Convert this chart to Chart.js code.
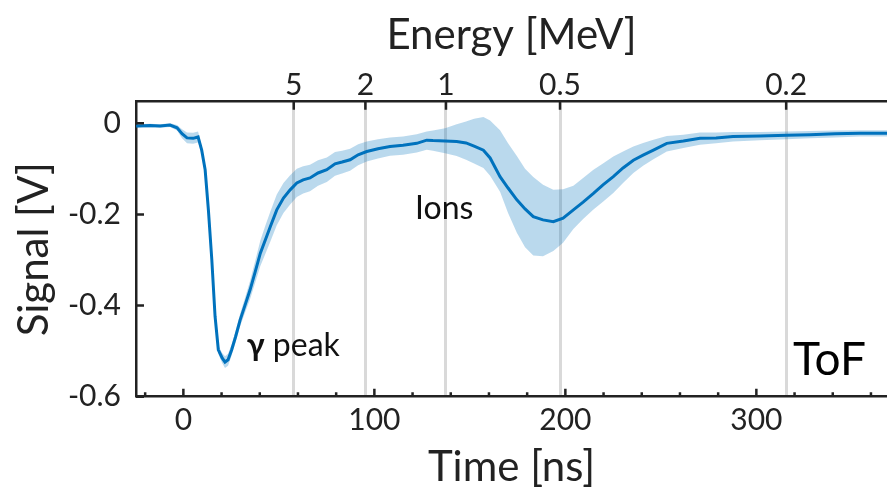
<!DOCTYPE html>
<html>
<head>
<meta charset="utf-8">
<script src="https://cdn.jsdelivr.net/npm/chart.js@4.4.1/dist/chart.umd.min.js"></script>
<style>
  body { margin: 0; background: #fff; }
  canvas { display: block; }
</style>
</head>
<body>
<canvas id="tofChart" width="887" height="488"></canvas>
<script>
// time axis [ns] and the mean signal [V]
var times = [-24.7, -17.4, -12.2, -7.0, -3.3, -0.7, 1.9, 5.1, 7.7, 9.6,
  11.4, 13.1, 14.9, 16.6, 18.3, 20.3, 21.8, 23.4, 25.3, 27.3,
  29.7, 32.3, 34.9, 37.6, 40.3, 42.9, 45.5, 48.9, 52.4, 55.9,
  59.4, 62.7, 66.3, 70.5, 75.1, 79.4, 83.1, 87.3, 91.5, 96.0,
  101.9, 108.2, 115.0, 122.2, 127.4, 130.7, 137.0, 143.1, 148.0, 152.2,
  157.1, 160.6, 165.8, 170.0, 174.6, 178.9, 183.2, 188.3, 193.7, 198.8,
  204.2, 209.3, 214.7, 219.7, 225.1, 230.2, 235.6, 240.7, 246.1, 253.1,
  261.8, 270.5, 278.9, 287.8, 301.9, 315.9, 328.1, 341.2, 354.3, 368.4];

var signal = [-0.006, -0.005, -0.006, -0.004, -0.010, -0.023, -0.032, -0.033, -0.030, -0.059,
  -0.102, -0.190, -0.300, -0.424, -0.497, -0.515, -0.524, -0.519, -0.497, -0.469,
  -0.432, -0.399, -0.366, -0.326, -0.285, -0.256, -0.227, -0.190, -0.164, -0.146,
  -0.131, -0.124, -0.120, -0.109, -0.102, -0.089, -0.085, -0.080, -0.069, -0.062,
  -0.056, -0.051, -0.048, -0.044, -0.037, -0.038, -0.039, -0.040, -0.043, -0.050,
  -0.059, -0.076, -0.117, -0.142, -0.168, -0.188, -0.205, -0.212, -0.216, -0.208,
  -0.190, -0.173, -0.154, -0.135, -0.117, -0.098, -0.081, -0.070, -0.059, -0.044,
  -0.039, -0.033, -0.032, -0.029, -0.028, -0.026, -0.025, -0.023, -0.022, -0.022];

// spread of the shots (upper / lower edge of the shaded band)
var upper = [-0.002, -0.001, -0.002, 0.000, -0.004, -0.013, -0.020, -0.021, -0.018, -0.050,
  -0.093, -0.181, -0.291, -0.415, -0.488, -0.504, -0.511, -0.506, -0.485, -0.457,
  -0.418, -0.383, -0.346, -0.302, -0.257, -0.225, -0.194, -0.156, -0.131, -0.114,
  -0.100, -0.094, -0.091, -0.081, -0.075, -0.063, -0.060, -0.056, -0.046, -0.040,
  -0.035, -0.031, -0.029, -0.024, -0.018, -0.016, -0.011, -0.002, 0.004, 0.010,
  0.014, 0.006, -0.015, -0.044, -0.072, -0.100, -0.118, -0.135, -0.146, -0.145,
  -0.137, -0.120, -0.102, -0.088, -0.073, -0.062, -0.051, -0.043, -0.036, -0.028,
  -0.025, -0.020, -0.020, -0.019, -0.019, -0.018, -0.017, -0.016, -0.015, -0.015];

var lower = [-0.010, -0.009, -0.010, -0.008, -0.016, -0.033, -0.044, -0.045, -0.042, -0.068,
  -0.111, -0.199, -0.309, -0.433, -0.506, -0.526, -0.537, -0.532, -0.509, -0.481,
  -0.446, -0.415, -0.386, -0.350, -0.313, -0.287, -0.260, -0.224, -0.197, -0.178,
  -0.162, -0.154, -0.149, -0.137, -0.129, -0.115, -0.110, -0.104, -0.092, -0.084,
  -0.077, -0.071, -0.069, -0.064, -0.058, -0.060, -0.066, -0.072, -0.080, -0.088,
  -0.098, -0.115, -0.150, -0.197, -0.240, -0.272, -0.290, -0.292, -0.280, -0.262,
  -0.232, -0.210, -0.189, -0.172, -0.153, -0.131, -0.109, -0.093, -0.079, -0.062,
  -0.054, -0.047, -0.044, -0.040, -0.037, -0.035, -0.033, -0.031, -0.029, -0.029];

// axes
var xTicks = [-20, 0, 20, 40, 60, 80, 100, 120, 140, 160, 180, 200, 220, 240, 260, 280, 300, 320, 340, 360];
var xLabels = [0, 100, 200, 300];
var yTicks = [-0.6, -0.4, -0.2, 0];
var energyTimes = [57.8, 95.3, 137.5, 197.2, 315.6];
var energyLabels = ["5", "2", "1", "0.5", "0.2"];

var axisColor = "#222222";
var blue = "rgb(0, 114, 189)";
var bandColor = "rgba(0, 114, 189, 0.27)";

Chart.defaults.font.family = "Lato, 'Open Sans', sans-serif";
Chart.defaults.color = axisColor;

function toPoints(ys) {
  return times.map(function (t, i) { return { x: t, y: ys[i] }; });
}

// tick marks point inwards, like the matlab figure
var innerTicks = {
  id: "innerTicks",
  afterDatasetsDraw: function (chart) {
    var ctx = chart.ctx;
    var area = chart.chartArea;
    var sx = chart.scales.x, sx2 = chart.scales.x2, sy = chart.scales.y;
    ctx.save();
    ctx.strokeStyle = axisColor;
    ctx.lineWidth = 2.5;
    ctx.beginPath();
    sx.ticks.forEach(function (t) {
      var p = sx.getPixelForValue(t.value);
      var len = xLabels.indexOf(t.value) >= 0 ? 8 : 4.5;
      ctx.moveTo(p, area.bottom);
      ctx.lineTo(p, area.bottom - len);
    });
    sx2.ticks.forEach(function (t) {
      var p = sx2.getPixelForValue(t.value);
      ctx.moveTo(p, area.top);
      ctx.lineTo(p, area.top + 8);
    });
    sy.ticks.forEach(function (t) {
      var p = sy.getPixelForValue(t.value);
      ctx.moveTo(area.left, p);
      ctx.lineTo(area.left + 8, p);
    });
    ctx.stroke();
    ctx.restore();
  }
};

// text labels inside the plot
var notes = {
  id: "notes",
  afterDraw: function (chart) {
    var ctx = chart.ctx;
    var sx = chart.scales.x, sy = chart.scales.y;
    ctx.save();
    ctx.textBaseline = "alphabetic";
    ctx.textAlign = "left";

    var gx = sx.getPixelForValue(33.2), gy = sy.getPixelForValue(-0.511);
    ctx.fillStyle = "#111";
    ctx.font = "bold 32px Lato, sans-serif";
    ctx.fillText("γ", gx, gy);
    var w = ctx.measureText("γ").width;
    ctx.font = "32px Lato, sans-serif";
    ctx.fillText(" peak", gx + w, gy);

    ctx.fillText("Ions", sx.getPixelForValue(121.3), sy.getPixelForValue(-0.211));

    ctx.fillStyle = "#000";
    ctx.font = "46px Lato, sans-serif";
    ctx.fillText("ToF", sx.getPixelForValue(319.2), sy.getPixelForValue(-0.552));
    ctx.restore();
  }
};

var xMin = -24.8, xMax = 368.4;

new Chart(document.getElementById("tofChart"), {
  type: "line",
  data: {
    datasets: [
      {
        data: toPoints(upper),
        borderWidth: 0,
        pointRadius: 0,
        backgroundColor: bandColor,
        fill: "+1",
        order: 2
      },
      {
        data: toPoints(lower),
        borderWidth: 0,
        pointRadius: 0,
        fill: false,
        order: 2
      },
      {
        data: toPoints(signal),
        borderColor: blue,
        borderWidth: 3,
        pointRadius: 0,
        fill: false,
        order: 0
      }
    ]
  },
  options: {
    responsive: false,
    animation: false,
    layout: { padding: 0 },
    plugins: { legend: { display: false }, tooltip: { enabled: false } },
    scales: {
      x: {
        type: "linear",
        position: "bottom",
        min: xMin,
        max: xMax,
        afterBuildTicks: function (axis) {
          axis.ticks = xTicks.map(function (v) { return { value: v }; });
        },
        afterFit: function (axis) { axis.height = 91.3; },
        ticks: {
          autoSkip: false,
          maxRotation: 0,
          padding: 6,
          font: { size: 30 },
          callback: function (v) { return xLabels.indexOf(v) >= 0 ? String(v) : ""; }
        },
        grid: { display: false, drawTicks: false },
        border: { display: true, color: axisColor, width: 2.5 },
        title: {
          display: true,
          text: "Time [ns]",
          font: { size: 42, lineHeight: 1 },
          padding: { top: 0, bottom: 0 }
        }
      },
      x2: {
        type: "linear",
        position: "top",
        min: xMin,
        max: xMax,
        afterBuildTicks: function (axis) {
          axis.ticks = energyTimes.map(function (v) { return { value: v }; });
        },
        afterFit: function (axis) { axis.height = 101.7; },
        ticks: {
          autoSkip: false,
          maxRotation: 0,
          padding: 0,
          font: { size: 30, lineHeight: 1.1 },
          callback: function (v, i) { return energyLabels[i]; }
        },
        grid: { display: true, drawTicks: false, color: "#d9d9d9", lineWidth: 3 },
        border: { display: true, color: axisColor, width: 2.5 },
        title: {
          display: true,
          text: "Energy [MeV]",
          font: { size: 42, lineHeight: 1 },
          padding: { top: 14, bottom: 0 }
        }
      },
      y: {
        type: "linear",
        position: "left",
        min: -0.6,
        max: 0.0474,
        afterBuildTicks: function (axis) {
          axis.ticks = yTicks.map(function (v) { return { value: v }; });
        },
        afterFit: function (axis) { axis.width = 136; },
        ticks: {
          padding: 15,
          font: { size: 30 },
          callback: function (v) { return v === 0 ? "0" : v.toFixed(1); }
        },
        grid: { display: false, drawTicks: false },
        border: { display: true, color: axisColor, width: 2.5 },
        title: {
          display: true,
          text: "Signal [V]",
          font: { size: 42, lineHeight: 1 },
          padding: { top: 13, bottom: 0 }
        }
      }
    }
  },
  plugins: [innerTicks, notes]
});
</script>
</body>
</html>
